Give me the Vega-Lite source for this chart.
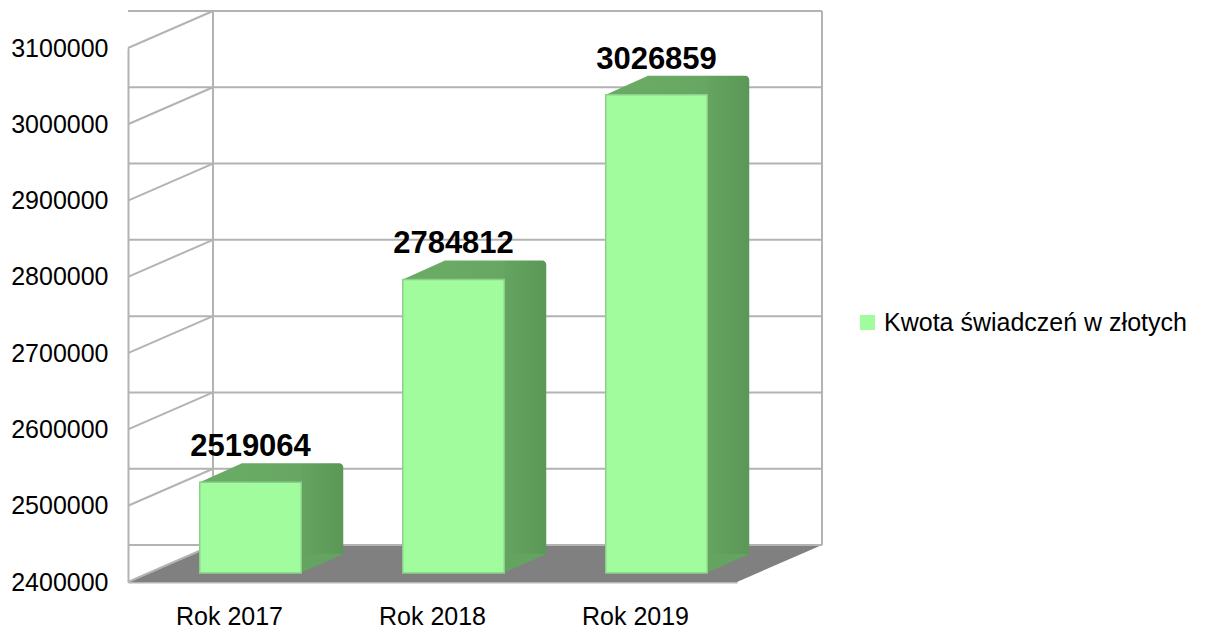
{
  "$schema": "https://vega.github.io/schema/vega-lite/v6.json",
  "width": 609,
  "height": 534,
  "autosize": "none",
  "padding": {"left": 128, "top": 48, "right": 472, "bottom": 50},
  "background": "white",
  "config": {
    "view": {"stroke": null},
    "font": "Liberation Sans",
    "axis": {"labelFont": "Liberation Sans", "labelColor": "#000000"},
    "legend": {"labelFont": "Liberation Sans"}
  },
  "datasets": {
    "bars": [
      {"year": "Rok 2017", "value": 2519064, "series": "Kwota świadczeń w złotych"},
      {"year": "Rok 2018", "value": 2784812, "series": "Kwota świadczeń w złotych"},
      {"year": "Rok 2019", "value": 3026859, "series": "Kwota świadczeń w złotych"}
    ],
    "ticks": [
      {"t": 2400000}, {"t": 2500000}, {"t": 2600000}, {"t": 2700000},
      {"t": 2800000}, {"t": 2900000}, {"t": 3000000}, {"t": 3100000}
    ],
    "one": [{"k": 1}]
  },
  "layer": [
    {
      "data": {"name": "one"},
      "mark": {"type": "point", "shape": "M-3.045,0L-2.195,-0.37L3.895,-0.37L3.045,0Z", "size": 40000, "filled": true, "color": "#808080", "opacity": 1, "strokeWidth": 0},
      "encoding": {
        "x": {"datum": "Rok 2018", "type": "nominal"},
        "y": {"datum": 2400000, "type": "quantitative"}
      }
    },
    {
      "data": {"name": "ticks"},
      "mark": {"type": "rule", "color": "#b3b3b3", "strokeWidth": 2, "xOffset": 85, "x2Offset": 85, "yOffset": -37, "y2Offset": -37},
      "encoding": {
        "y": {"field": "t", "type": "quantitative"}
      }
    },
    {
      "data": {"name": "ticks"},
      "mark": {"type": "rule", "color": "#b3b3b3", "strokeWidth": 2, "x2Offset": 85, "y2Offset": -37},
      "encoding": {
        "x": {"value": 0},
        "x2": {"value": 0},
        "y": {"field": "t", "type": "quantitative"},
        "y2": {"field": "t"}
      }
    },
    {
      "data": {"name": "one"},
      "mark": {"type": "rule", "color": "#b3b3b3", "strokeWidth": 2, "xOffset": 85, "yOffset": -37, "y2Offset": -37},
      "encoding": {
        "x": {"value": 0},
        "y": {"datum": 3100000, "type": "quantitative"},
        "y2": {"datum": 2400000}
      }
    },
    {
      "data": {"name": "one"},
      "mark": {"type": "rule", "color": "#b3b3b3", "strokeWidth": 2, "xOffset": 85, "yOffset": -37, "y2Offset": -37},
      "encoding": {
        "x": {"value": "width"},
        "y": {"datum": 3100000, "type": "quantitative"},
        "y2": {"datum": 2400000}
      }
    },
    {
      "data": {"name": "bars"},
      "mark": {
        "type": "bar", "xOffset": 63, "yOffset": -28, "y2Offset": -28, "cornerRadiusTopRight": 4,
        "color": {"gradient": "linear", "x1": 0, "x2": 1, "y1": 0, "y2": 0,
          "stops": [{"offset": 0, "color": "#69aa65"}, {"offset": 0.58, "color": "#67a763"}, {"offset": 0.6, "color": "#64a360"}, {"offset": 1, "color": "#5b9857"}]}
      },
      "encoding": {
        "x": {"field": "year", "type": "nominal"},
        "y": {"field": "value", "type": "quantitative"},
        "y2": {"datum": 2400000}
      }
    },
    {
      "data": {"name": "bars"},
      "mark": {"type": "point", "shape": "M1.0,0L1.855,-0.38L1.0,-0.38Z", "size": 10000, "filled": true, "color": "#64a360", "opacity": 1, "strokeWidth": 0, "xOffset": 21, "yOffset": -9},
      "encoding": {
        "x": {"field": "year", "type": "nominal"},
        "y": {"datum": 2400000, "type": "quantitative"}
      }
    },
    {
      "data": {"name": "bars"},
      "mark": {"type": "point", "shape": "M-1.015,0L-0.17,-0.38L-0.17,0Z", "size": 10000, "filled": true, "color": "#69aa65", "opacity": 1, "strokeWidth": 0, "xOffset": 21, "yOffset": -9},
      "encoding": {
        "x": {"field": "year", "type": "nominal"},
        "y": {"field": "value", "type": "quantitative"}
      }
    },
    {
      "data": {"name": "bars"},
      "mark": {"type": "bar", "xOffset": 21, "yOffset": -9, "y2Offset": -9, "stroke": "#8ccf89", "strokeWidth": 1.5},
      "encoding": {
        "x": {
          "field": "year", "type": "nominal",
          "scale": {"paddingInner": 0.5, "paddingOuter": 0.25},
          "axis": {"title": null, "labelAngle": 0, "labelAlign": "center", "bandPosition": 0.5, "labelFontSize": 25, "labelPadding": 34, "ticks": false, "domainColor": "#b3b3b3", "domainWidth": 2}
        },
        "y": {
          "field": "value", "type": "quantitative",
          "scale": {"domain": [2400000, 3100000], "nice": false, "zero": false},
          "axis": {"title": null, "values": [2400000, 2500000, 2600000, 2700000, 2800000, 2900000, 3000000, 3100000], "format": "d", "labelFontSize": 25, "labelPadding": 20, "ticks": false, "grid": false, "domainColor": "#b3b3b3", "domainWidth": 2}
        },
        "y2": {"datum": 2400000},
        "color": {
          "field": "series", "type": "nominal",
          "scale": {"range": ["#a0fc9c"]},
          "legend": {"title": null, "orient": "none", "legendX": 727, "legendY": 262, "symbolType": "square", "symbolSize": 225, "symbolStrokeWidth": 0, "labelFontSize": 25, "labelOffset": 4, "labelLimit": 500, "padding": 0, "labelColor": "#000000"}
        }
      }
    },
    {
      "data": {"name": "bars"},
      "mark": {"type": "text", "xOffset": 21, "yOffset": -35, "baseline": "alphabetic", "align": "center", "fontSize": 31, "fontWeight": "bold", "color": "#000000"},
      "encoding": {
        "x": {"field": "year", "type": "nominal"},
        "y": {"field": "value", "type": "quantitative"},
        "text": {"field": "value", "type": "quantitative", "format": "d"}
      }
    }
  ]
}
